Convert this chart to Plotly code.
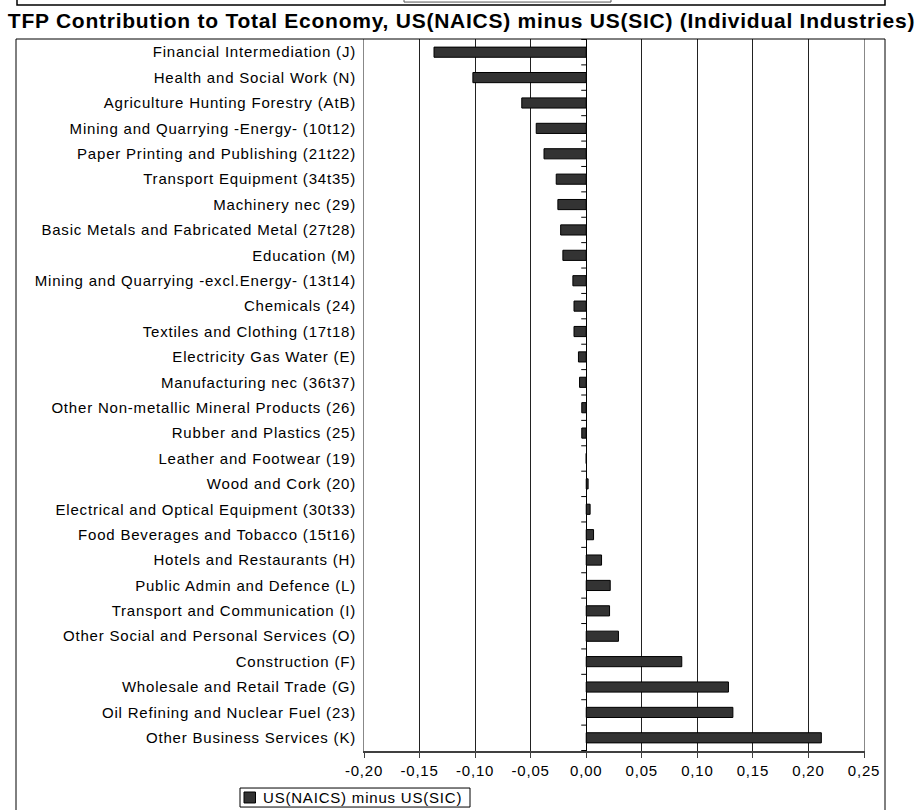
import plotly.graph_objects as go

categories = [
    "Financial Intermediation (J)",
    "Health and Social Work (N)",
    "Agriculture Hunting Forestry (AtB)",
    "Mining and Quarrying -Energy- (10t12)",
    "Paper Printing and Publishing (21t22)",
    "Transport Equipment (34t35)",
    "Machinery nec (29)",
    "Basic Metals and Fabricated Metal (27t28)",
    "Education (M)",
    "Mining and Quarrying -excl.Energy- (13t14)",
    "Chemicals (24)",
    "Textiles and Clothing (17t18)",
    "Electricity Gas Water (E)",
    "Manufacturing nec (36t37)",
    "Other Non-metallic Mineral Products (26)",
    "Rubber and Plastics (25)",
    "Leather and Footwear (19)",
    "Wood and Cork (20)",
    "Electrical and Optical Equipment (30t33)",
    "Food Beverages and Tobacco (15t16)",
    "Hotels and Restaurants (H)",
    "Public Admin and Defence (L)",
    "Transport and Communication (I)",
    "Other Social and Personal Services (O)",
    "Construction (F)",
    "Wholesale and Retail Trade (G)",
    "Oil Refining and Nuclear Fuel (23)",
    "Other Business Services (K)",
]
values = [
    -0.137, -0.102, -0.058, -0.045, -0.038, -0.027, -0.0255, -0.023, -0.021,
    -0.012, -0.011, -0.011, -0.007, -0.006, -0.004, -0.004, 0.0, 0.0017,
    0.0035, 0.0066, 0.0138, 0.0216, 0.021, 0.029, 0.086, 0.128, 0.132, 0.2116,
]
series_name = "US(NAICS) minus US(SIC)"
title_text = "TFP Contribution to Total Economy, US(NAICS) minus US(SIC) (Individual Industries)"
x_ticks = [-0.20, -0.15, -0.10, -0.05, 0.00, 0.05, 0.10, 0.15, 0.20, 0.25]
x_tick_labels = ["-0,20", "-0,15", "-0,10", "-0,05", "0,00", "0,05", "0,10", "0,15", "0,20", "0,25"]

FONT = "Liberation Sans, Arial, sans-serif"
BAR_FILL = "#333333"


def spaced(s, px):
    return "<span style='letter-spacing:%spx'>%s</span>" % (px, s)


fig = go.Figure()
fig.add_trace(go.Bar(
    x=values, y=categories, orientation="h", name=series_name,
    marker=dict(color=BAR_FILL, line=dict(color="#000000", width=1)),
    showlegend=False,
))

shapes = []
# outer frame of this chart
shapes.append(dict(type="rect", xref="paper", yref="paper",
                   x0=-0.696, x1=1.042, y0=-0.12, y1=1.0,
                   line=dict(color="black", width=1), fillcolor="rgba(0,0,0,0)", layer="above"))
# remnant of previous chart at the top
shapes.append(dict(type="rect", xref="paper", yref="paper",
                   x0=-0.694, x1=1.042, y0=1.0478, y1=1.09,
                   line=dict(color="black", width=1.5), fillcolor="rgba(0,0,0,0)"))
shapes.append(dict(type="rect", xref="paper", yref="paper",
                   x0=0.08, x1=0.494, y0=1.0519, y1=1.09,
                   line=dict(color="#555555", width=1), fillcolor="rgba(0,0,0,0)"))
# category tick marks on the zero line
for i in range(len(categories) + 1):
    shapes.append(dict(type="line", xref="x", yref="y",
                       x0=-0.0045, x1=0, y0=i - 0.5, y1=i - 0.5,
                       line=dict(color="black", width=1)))

# legend (compact box like the original): frame, swatch, label
shapes.append(dict(type="rect", xref="paper", yref="paper",
                   x0=-0.248, x1=0.212, y0=-0.0787, y1=-0.052,
                   fillcolor="white", line=dict(color="black", width=1), layer="above"))
shapes.append(dict(type="rect", xref="paper", yref="paper",
                   x0=-0.24, x1=-0.217, y0=-0.073, y1=-0.0576,
                   fillcolor=BAR_FILL, line=dict(color="black", width=1), layer="above"))
annotations = [dict(
    xref="paper", yref="paper", x=-0.207, y=-0.0653, xanchor="left", yanchor="middle",
    text=spaced(series_name, 0.8), showarrow=False,
    font=dict(family=FONT, size=15, color="black"),
)]

fig.update_layout(
    width=923, height=810,
    margin=dict(l=364, r=59, t=39, b=59),
    paper_bgcolor="white", plot_bgcolor="white",
    font=dict(family=FONT, size=15, color="black"),
    title=dict(text="<b>" + spaced(title_text, 0.75) + "</b>", x=0.5, xanchor="center",
               y=1 - 21 / 810, yanchor="middle", yref="container",
               font=dict(size=21, color="black")),
    bargap=0.6,
    xaxis=dict(range=[-0.20, 0.25], tickvals=x_ticks,
               ticktext=[spaced(t, 0.8) for t in x_tick_labels],
               showgrid=True, gridcolor="#222222", gridwidth=1,
               zeroline=True, zerolinecolor="black", zerolinewidth=1,
               showline=True, linecolor="#404040", linewidth=2,
               ticks="outside", ticklen=5, tickcolor="#404040",
               tickfont=dict(size=15), fixedrange=True),
    yaxis=dict(autorange="reversed", showgrid=False, ticks="",
               tickmode="array", tickvals=categories,
               ticktext=[spaced(c, 0.8) for c in categories],
               showline=True, mirror=True, linecolor="#888888", linewidth=1,
               tickfont=dict(size=15), ticklabelstandoff=4, fixedrange=True),
    showlegend=False,
    annotations=annotations,
    shapes=shapes,
)

fig.write_html("out.html", config={"displayModeBar": False, "staticPlot": True},
               post_script="document.body.style.margin='0px';")
